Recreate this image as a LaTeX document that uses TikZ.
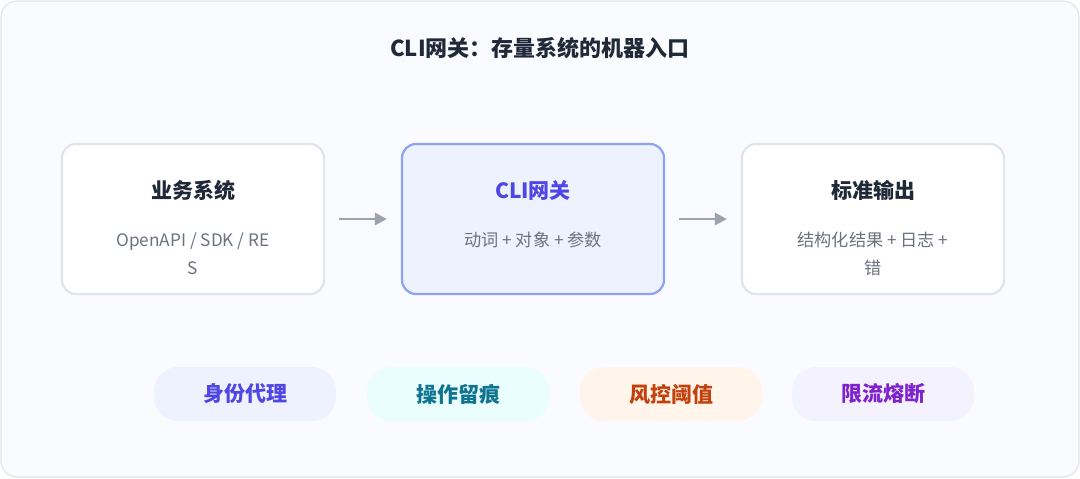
\documentclass[tikz,border=0pt]{standalone}
\usepackage{fontspec}
\setmainfont{Noto Sans CJK SC}
\usepackage{tikz}
\usetikzlibrary{arrows.meta,positioning}
\definecolor{bgfill}{HTML}{FAFBFF}
\definecolor{bgline}{HTML}{E1E4EC}
\definecolor{ink}{HTML}{1F2937}
\definecolor{subink}{HTML}{6B7280}
\definecolor{indigo}{HTML}{4F46E5}
\definecolor{gateline}{HTML}{8EA2F5}
\definecolor{gatefill}{HTML}{EEF2FE}
\definecolor{cyanink}{HTML}{0E7490}
\definecolor{orangeink}{HTML}{C2410C}
\definecolor{purpleink}{HTML}{7E22CE}
\definecolor{proxyfill}{HTML}{EEF2FF}
\definecolor{tracefill}{HTML}{EAFDFF}
\definecolor{riskfill}{HTML}{FFF5EA}
\definecolor{limitfill}{HTML}{F5F2FF}
\definecolor{arrowgray}{HTML}{9CA3AF}
\tikzset{
  stage/.style={draw=#1, line width=1.1pt, rounded corners=7pt, fill=white,
    minimum width=131pt, minimum height=75pt},
  pill/.style={fill=#1, rounded corners=12pt, minimum width=91pt,
    minimum height=27pt, font=\fontsize{10.5}{12}\selectfont\bfseries},
  flow/.style={-{Triangle[length=6pt,width=6pt]}, draw=arrowgray,
    line width=1.4pt, shorten <=7pt, shorten >=7pt},
}
\begin{document}
\begin{tikzpicture}[x=0.5pt,y=-0.5pt,align=center]
    \draw[bgline, fill=bgfill, line width=0.6pt, rounded corners=8pt] (1,1) rectangle (1079,477);
    \useasboundingbox (0,0) rectangle (1080,478);

    \node[font=\fontsize{11}{12}\selectfont\bfseries, text=ink] (title) at (540,48) {CLI网关：存量系统的机器入口};

    % stages
    \node[stage=bgline] (business) at (193,219) {};
    \node[stage=gateline, fill=gatefill] (gateway) at (533,219) {};
    \node[stage=bgline] (output) at (873,219) {};

    \node[font=\fontsize{10.5}{12}\selectfont\bfseries, text=ink] (business_title) at (193,190) {业务系统};
    \node[font=\fontsize{8.6}{14}\selectfont, text=subink] (business_text) at (193,254) {OpenAPI / SDK / RE\\S};
    \node[font=\fontsize{10.5}{12}\selectfont\bfseries, text=indigo] (gateway_title) at (533,190) {CLI网关};
    \node[font=\fontsize{8.6}{14}\selectfont, text=subink] (gateway_text) at (533,240) {动词 + 对象 + 参数};
    \node[font=\fontsize{10.5}{12}\selectfont\bfseries, text=ink] (output_title) at (873,190) {标准输出};
    \node[font=\fontsize{8.6}{14}\selectfont, text=subink] (output_text) at (873,254) {结构化结果 + 日志 +\\错};

    \draw[flow] (business) -- (gateway);
    \draw[flow] (gateway) -- (output);

    % capabilities
    \node[pill=proxyfill, text=indigo] (proxy) at (245,394) {身份代理};
    \node[pill=tracefill, text=cyanink] (trace) at (458,394) {操作留痕};
    \node[pill=riskfill, text=orangeink] (risk) at (671,394) {风控阈值};
    \node[pill=limitfill, text=purpleink] (limit) at (883,394) {限流熔断};
\end{tikzpicture}
\end{document}
